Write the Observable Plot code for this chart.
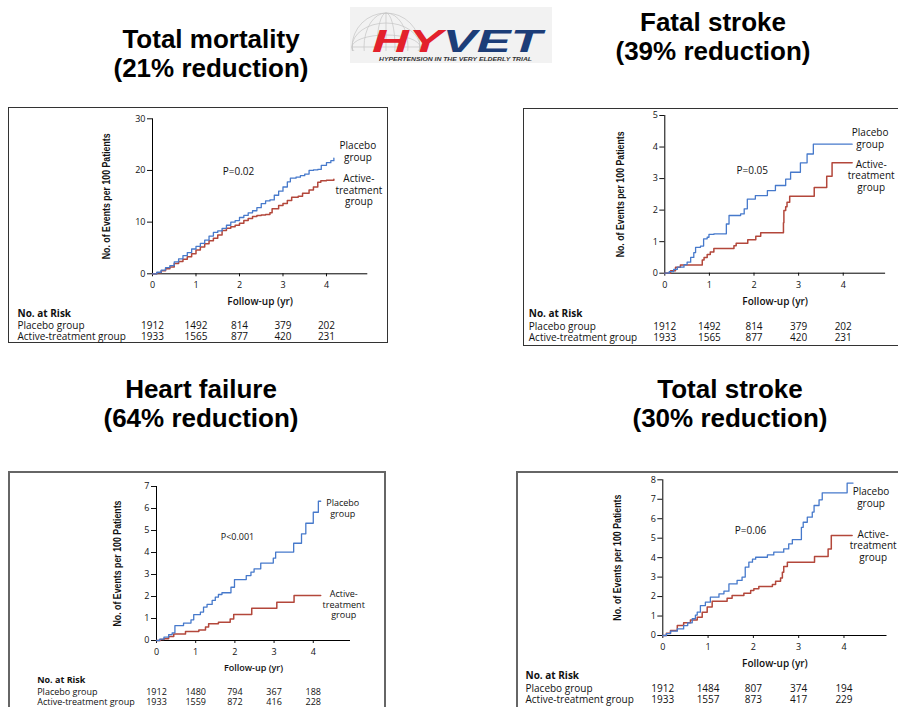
<!DOCTYPE html>
<html>
<head>
<meta charset="utf-8">
<script src="https://cdn.jsdelivr.net/npm/d3@7"></script>
<script src="https://cdn.jsdelivr.net/npm/@observablehq/plot@0.6"></script>
<style>
  html, body { margin: 0; padding: 0; background: #fff; }
  body { width: 898px; height: 707px; overflow: hidden; position: relative; }
  .title { position: absolute; width: 320px; text-align: center; font-family: 'Liberation Sans', Arial, sans-serif;
           font-weight: bold; font-size: 26px; line-height: 29px; color: #000; }
  .box { position: absolute; box-sizing: border-box; }
  .chart { position: absolute; }
  .chart svg { display: block; }
</style>
</head>
<body>
<script>
// ---------------- DATA ----------------
const riskYears = [0, 1, 2, 3, 4];

// Total mortality: [year, events per 100 patients]
const mortalityPlacebo = [[0,0],[0.1,0.3],[0.2,0.7],[0.3,1.2],[0.4,1.6],[0.5,2.3],[0.6,2.9],[0.7,3.5],[0.8,4.1],[0.9,4.8],[1.0,5.3],[1.1,5.9],[1.2,6.5],[1.3,7.3],[1.4,8.0],[1.5,8.3],[1.6,8.8],[1.7,9.4],[1.8,10.0],[1.9,10.3],[2.0,10.9],[2.1,11.3],[2.2,11.8],[2.3,12.2],[2.4,12.8],[2.5,13.6],[2.6,14.1],[2.7,14.3],[2.8,15.2],[2.9,16.0],[3.0,16.8],[3.1,17.8],[3.17,18.5],[3.3,18.7],[3.4,19.0],[3.5,19.3],[3.6,20.0],[3.7,20.1],[3.8,20.2],[3.88,21.0],[4.0,21.5],[4.1,21.9],[4.17,22.4]];
const mortalityActive = [[0,0],[0.1,0.2],[0.2,0.6],[0.3,1.0],[0.4,1.3],[0.5,2.0],[0.6,2.4],[0.7,2.8],[0.8,3.3],[0.9,3.9],[1.0,4.6],[1.1,5.2],[1.2,5.8],[1.3,6.4],[1.4,6.9],[1.5,7.5],[1.6,8.4],[1.7,8.8],[1.8,9.1],[1.9,9.4],[2.0,9.8],[2.1,10.3],[2.2,10.7],[2.3,11.1],[2.4,11.3],[2.5,11.4],[2.6,11.5],[2.7,11.8],[2.75,12.6],[2.9,13.2],[3.0,13.6],[3.1,14.2],[3.2,14.8],[3.35,15.0],[3.45,15.6],[3.6,16.2],[3.7,16.8],[3.8,17.7],[3.87,18.0],[4.0,18.1],[4.17,18.3]];
const mortalityRiskPlacebo = [1912, 1492, 814, 379, 202];
const mortalityRiskActive = [1933, 1565, 877, 420, 231];

// Fatal stroke
const fatalPlacebo = [[0,0],[0.1,0.05],[0.2,0.12],[0.28,0.19],[0.43,0.27],[0.5,0.35],[0.58,0.5],[0.65,0.65],[0.69,0.82],[0.8,0.86],[0.87,1.09],[0.95,1.14],[0.99,1.23],[1.1,1.25],[1.38,1.56],[1.44,1.83],[1.70,1.88],[1.78,2.04],[1.85,2.35],[2.03,2.46],[2.30,2.62],[2.48,2.78],[2.71,2.98],[2.82,3.2],[3.04,3.5],[3.19,3.78],[3.33,4.09],[4.2,4.09]];
const fatalActive = [[0,0],[0.13,0.08],[0.24,0.19],[0.35,0.26],[0.84,0.42],[0.88,0.5],[0.95,0.59],[1.02,0.67],[1.1,0.78],[1.55,0.87],[1.6,0.95],[1.86,1.06],[2.04,1.17],[2.15,1.28],[2.66,1.6],[2.67,1.99],[2.71,2.11],[2.74,2.25],[2.8,2.44],[3.35,2.72],[3.63,3.07],[3.75,3.5],[4.2,3.5]];
const fatalRiskPlacebo = [1912, 1492, 814, 379, 202];
const fatalRiskActive = [1933, 1565, 877, 420, 231];

// Heart failure
const heartPlacebo = [[0,0],[0.08,0.06],[0.19,0.15],[0.31,0.27],[0.4,0.35],[0.47,0.68],[0.69,0.79],[0.88,0.94],[0.95,1.18],[1.12,1.29],[1.2,1.52],[1.29,1.64],[1.42,1.82],[1.5,1.97],[1.58,2.09],[1.67,2.17],[1.9,2.42],[1.99,2.77],[2.29,2.95],[2.41,3.11],[2.49,3.26],[2.66,3.52],[2.98,3.74],[3.04,4.02],[3.5,4.42],[3.7,4.85],[3.81,5.33],[4.0,5.83],[4.13,6.33],[4.19,6.33]];
const heartActive = [[0,0],[0.1,0.04],[0.19,0.08],[0.31,0.18],[0.44,0.3],[0.74,0.41],[1.08,0.48],[1.25,0.61],[1.33,0.76],[1.58,0.83],[1.88,0.98],[1.97,1.18],[2.43,1.47],[3.07,1.74],[3.51,2.05],[4.19,2.05]];
const heartRiskPlacebo = [1912, 1480, 794, 367, 188];
const heartRiskActive = [1933, 1559, 872, 416, 228];

// Total stroke
const strokePlacebo = [[0,0],[0.08,0.1],[0.17,0.22],[0.32,0.34],[0.46,0.51],[0.55,0.65],[0.65,0.86],[0.72,1.05],[0.76,1.2],[0.83,1.54],[0.94,1.71],[1.05,1.97],[1.24,2.14],[1.35,2.28],[1.46,2.65],[1.64,2.83],[1.75,3.0],[1.82,3.51],[1.9,3.77],[1.98,3.92],[2.05,4.02],[2.31,4.14],[2.45,4.28],[2.67,4.45],[2.78,4.71],[2.86,4.93],[3.06,5.56],[3.1,5.82],[3.19,6.08],[3.3,6.34],[3.34,6.68],[3.45,6.97],[3.52,7.33],[4.07,7.83],[4.2,7.83]];
const strokeActive = [[0,0],[0.08,0.12],[0.17,0.26],[0.32,0.51],[0.46,0.65],[0.61,0.8],[0.76,0.94],[0.87,1.2],[0.98,1.46],[1.09,1.76],[1.42,1.92],[1.53,2.05],[1.79,2.17],[1.94,2.31],[2.01,2.4],[2.12,2.52],[2.42,2.62],[2.49,2.79],[2.6,2.96],[2.64,3.25],[2.67,3.54],[2.75,3.77],[3.35,4.06],[3.65,4.45],[3.72,5.14],[4.18,5.14]];
const strokeRiskPlacebo = [1912, 1484, 807, 374, 194];
const strokeRiskActive = [1933, 1557, 873, 417, 229];

const titles = [["Total mortality", "(21% reduction)"], ["Fatal stroke", "(39% reduction)"],
                ["Heart failure", "(64% reduction)"], ["Total stroke", "(30% reduction)"]];
const pValues = ["P=0.02", "P=0.05", "P<0.001", "P=0.06"];
const yMax = [30, 5, 7, 8];
const yTicks = [[0, 10, 20, 30], [0, 1, 2, 3, 4, 5], [0, 1, 2, 3, 4, 5, 6, 7], [0, 1, 2, 3, 4, 5, 6, 7, 8]];
const xTicks = [0, 1, 2, 3, 4];
const xLabel = "Follow-up (yr)";
const yLabel = "No. of Events per 100 Patients";
const riskHeader = "No. at Risk";
const rowNames = ["Placebo group", "Active-treatment group"];
const placeboLabel = "Placebo\ngroup";
const activeLabel = "Active-\ntreatment\ngroup";

// ---------------- LAYOUT ----------------
const BLUE = "#4679cb";
const RED = "#b3473b";
const FONT = "'Open Sans', 'DejaVu Sans', sans-serif";
const LABELFONT = "'Liberation Sans', Arial, sans-serif";

const layouts = [
  { left: 8, top: 107, w: 380, h: 236, mt: 11.3, mb: 69.7, ml: 144, mr: 20.7, ts: 10,
    box: [8, 107, 380, 236, "1.5px solid #333"], title: [211, 24.5],
    p: [86, 52.7], yl: -46, xl: 28.4, rows: [39.7, 52.4, 63], rowDx: -135,
    lp: [24, -7], la: [25, 11] },
  { left: 523, top: 108, w: 380, h: 238, mt: 7, mb: 73.3, ml: 141.3, mr: 17.9, ts: 10,
    box: [523, 108, 385, 238, "1.5px solid #333"], title: [713, 7.5],
    p: [87.4, 55.7], yl: -44.3, xl: 29, rows: [40.6, 53.3, 64.6], rowDx: -136,
    lp: [18, -6], la: [19, 13] },
  { left: 8, top: 472, w: 378, h: 238, mt: 14, mb: 70, ml: 148, mr: 36, ts: 9,
    box: [8, 471, 378, 240, "2px solid #666"], title: [201, 374.5],
    p: [81, 51], yl: -39.3, xl: 27.3, rows: [40, 51.7, 61.8], rowDx: -119.3,
    lp: [22, 7], la: [23, 9] },
  { left: 516, top: 472, w: 385, h: 238, mt: 7.3, mb: 75, ml: 146.3, mr: 14.5, ts: 10,
    box: [516, 471, 390, 240, "2px solid #666"], title: [730, 374.5],
    p: [87.7, 51.4], yl: -45.6, xl: 28.3, rows: [40.7, 53.3, 64.3], rowDx: -137.3,
    lp: [18, 14], la: [21, 10] }
];

const seriesSets = [
  [mortalityPlacebo, mortalityActive, mortalityRiskPlacebo, mortalityRiskActive],
  [fatalPlacebo, fatalActive, fatalRiskPlacebo, fatalRiskActive],
  [heartPlacebo, heartActive, heartRiskPlacebo, heartRiskActive],
  [strokePlacebo, strokeActive, strokeRiskPlacebo, strokeRiskActive]
];

function el(tag, style, html) {
  const e = document.createElement(tag);
  Object.assign(e.style, style);
  if (html != null) e.innerHTML = html;
  document.body.appendChild(e);
  return e;
}

// Logo
el("div", { position: "absolute", left: "350px", top: "7px", width: "202px", height: "56px", background: "#f2f2f2" },
`<svg width="202" height="56" viewBox="0 0 202 56">
  <defs><clipPath id="gc"><rect x="0" y="0" width="202" height="44"/></clipPath></defs>
  <g fill="none" stroke="#c4c4c4" stroke-width="0.7" clip-path="url(#gc)">
    <circle cx="36" cy="40" r="34"/>
    <ellipse cx="36" cy="40" rx="22" ry="34"/>
    <ellipse cx="36" cy="40" rx="9" ry="34"/>
    <ellipse cx="36" cy="40" rx="34" ry="12"/>
    <ellipse cx="36" cy="40" rx="34" ry="24"/>
    <line x1="2" y1="40" x2="70" y2="40"/>
    <line x1="36" y1="6" x2="36" y2="74"/>
  </g>
  <text x="22" y="45" font-family="'Liberation Sans', Arial, sans-serif" font-weight="bold" font-style="italic"
        font-size="32" textLength="170" lengthAdjust="spacingAndGlyphs"><tspan fill="#e3212b">HY</tspan><tspan fill="#1c3d78">VET</tspan></text>
  <text x="29" y="54" font-family="'Liberation Sans', Arial, sans-serif" font-weight="bold" font-style="italic"
        font-size="4.6" fill="#333" textLength="153" lengthAdjust="spacingAndGlyphs">HYPERTENSION IN THE VERY ELDERLY TRIAL</text>
</svg>`);

layouts.forEach((L, i) => {
  const [pl, ac, rp, ra] = seriesSets[i];
  const placebo = pl.map(([t, v]) => ({ t, v }));
  const active = ac.map(([t, v]) => ({ t, v }));
  const riskP = riskYears.map((yr, k) => ({ yr, n: rp[k] }));
  const riskA = riskYears.map((yr, k) => ({ yr, n: ra[k] }));

  // title
  el("div", { left: (L.title[0] - 160) + "px", top: L.title[1] + "px" }, titles[i].join("<br>")).className = "title";
  // box
  const b = L.box;
  const box = el("div", { left: b[0] + "px", top: b[1] + "px", width: b[2] + "px", height: b[3] + "px", border: b[4] });
  box.className = "box";

  const txt = { textAnchor: "middle", lineAnchor: "middle", fontSize: L.ts, fill: "#111" };
  const chart = Plot.plot({
    width: L.w, height: L.h,
    marginTop: L.mt, marginBottom: L.mb, marginLeft: L.ml, marginRight: L.mr,
    style: { fontFamily: FONT, fontSize: "9px", background: "transparent", color: "#111", overflow: "visible" },
    x: { domain: [0, 4.95], ticks: xTicks, tickSize: 3, tickPadding: 5, label: null, tickFormat: d3.format("d") },
    y: { domain: [0, yMax[i]], ticks: yTicks[i], tickSize: 5, tickPadding: 2, label: null, tickFormat: d3.format("d") },
    marks: [
      Plot.ruleX([0], { stroke: "#000", strokeWidth: 1 }),
      Plot.ruleY([0], { stroke: "#000", strokeWidth: 1 }),
      Plot.line(active, { x: "t", y: "v", curve: "step-after", stroke: RED, strokeWidth: 1.5 }),
      Plot.line(placebo, { x: "t", y: "v", curve: "step-after", stroke: BLUE, strokeWidth: 1.3 }),
      Plot.text(placebo, Plot.selectLast({ x: "t", y: "v", text: () => placeboLabel, dx: L.lp[0], dy: L.lp[1],
        ...txt, lineHeight: 1.15, letterSpacing: "0.3px" })),
      Plot.text(active, Plot.selectLast({ x: "t", y: "v", text: () => activeLabel, dx: L.la[0], dy: L.la[1],
        ...txt, lineHeight: 1.15, letterSpacing: "0.3px" })),
      Plot.text([pValues[i]], { text: d => d, frameAnchor: "top-left", dx: L.p[0], dy: L.p[1], ...txt }),
      Plot.text([yLabel], { text: d => d, frameAnchor: "left", dx: L.yl, rotate: -90, ...txt,
        fontFamily: LABELFONT, fontSize: 10.5, fontWeight: 600 }),
      Plot.text([xLabel], { text: d => d, frameAnchor: "bottom", dy: L.xl, ...txt, fontWeight: 600 }),
      Plot.text([riskHeader], { text: d => d, frameAnchor: "bottom-left", dx: L.rowDx, dy: L.rows[0],
        ...txt, textAnchor: "start", fontWeight: "bold", letterSpacing: "0.2px" }),
      Plot.text([rowNames[0]], { text: d => d, frameAnchor: "bottom-left", dx: L.rowDx, dy: L.rows[1],
        ...txt, textAnchor: "start", letterSpacing: "0.3px" }),
      Plot.text([rowNames[1]], { text: d => d, frameAnchor: "bottom-left", dx: L.rowDx, dy: L.rows[2],
        ...txt, textAnchor: "start", letterSpacing: "0.3px" }),
      Plot.text(riskP, { x: "yr", text: d => String(d.n), frameAnchor: "bottom", dy: L.rows[1], ...txt, letterSpacing: "0.3px" }),
      Plot.text(riskA, { x: "yr", text: d => String(d.n), frameAnchor: "bottom", dy: L.rows[2], ...txt, letterSpacing: "0.3px" })
    ]
  });
  // condense the y-axis title to the narrow width it has in the reference
  chart.querySelectorAll("text").forEach(t => {
    if (t.textContent === yLabel) {
      t.setAttribute("textLength", 126);
      t.setAttribute("lengthAdjust", "spacingAndGlyphs");
    }
  });
  const wrap = el("div", { left: L.left + "px", top: L.top + "px", width: L.w + "px", height: L.h + "px" });
  wrap.className = "chart";
  wrap.appendChild(chart);
});
</script>
</body>
</html>
